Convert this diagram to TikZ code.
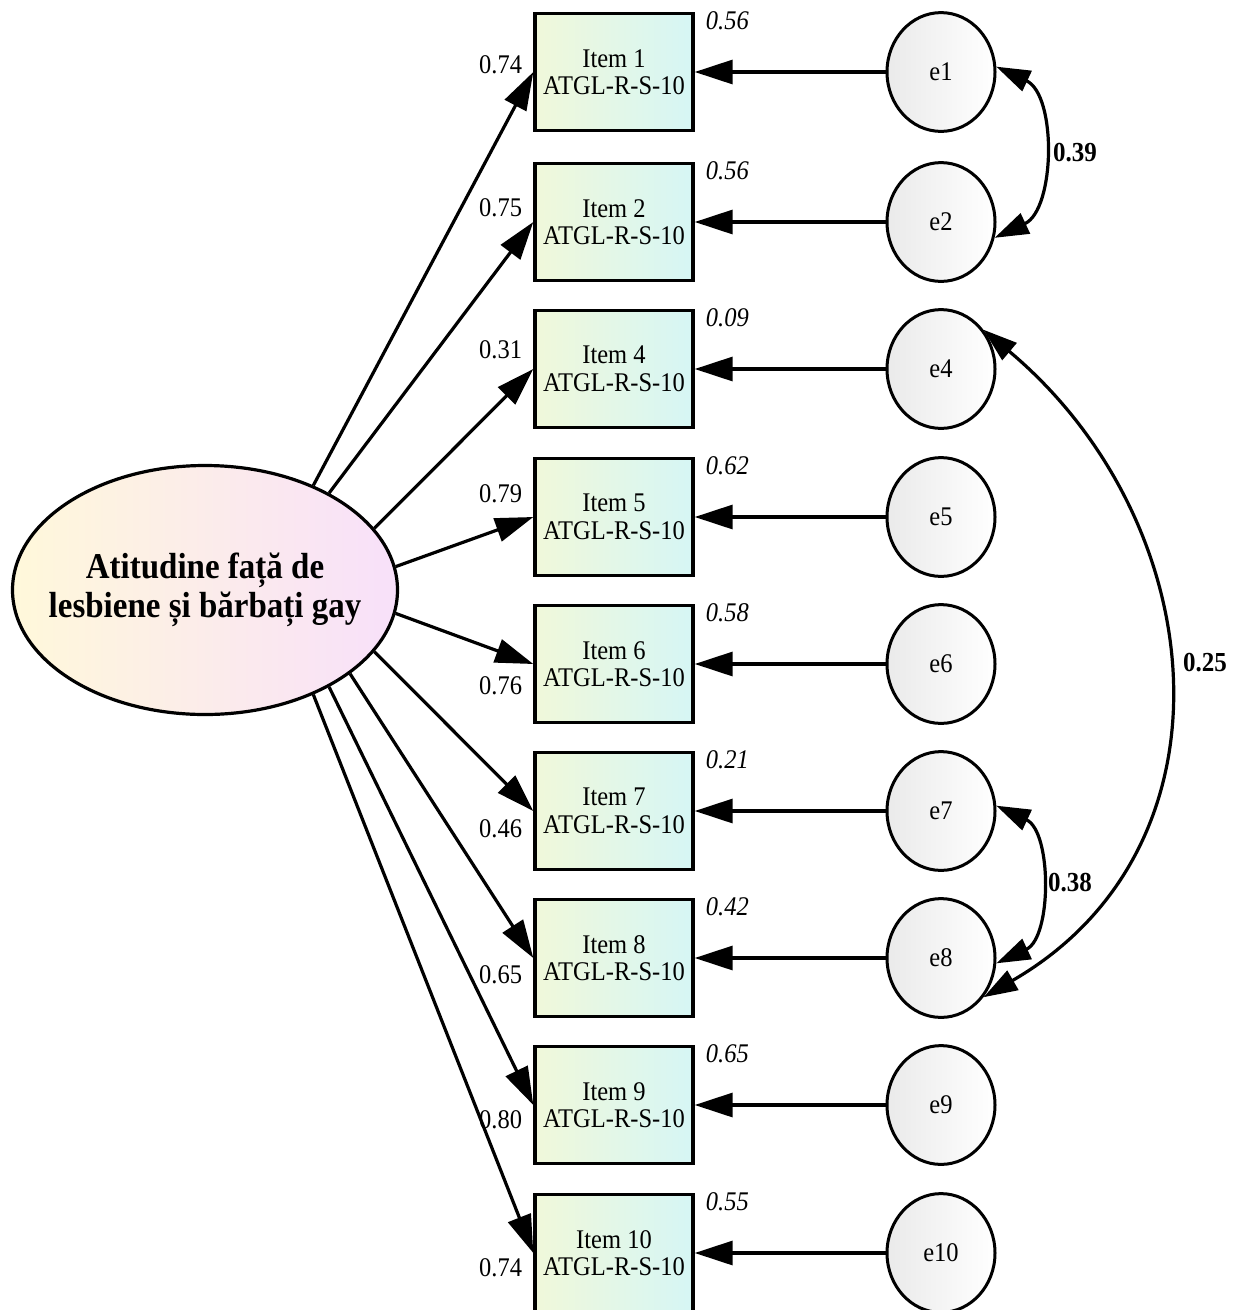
\documentclass[tikz,border=0pt]{standalone}
\usepackage{fontspec}
\setmainfont{Liberation Serif}
\usetikzlibrary{calc}
\usetikzlibrary{arrows.meta}
\usetikzlibrary{shapes.geometric}

\definecolor{boxl}{RGB}{240,248,218}
\definecolor{boxr}{RGB}{214,246,245}
\definecolor{latl}{RGB}{255,248,218}
\definecolor{latr}{RGB}{248,224,250}
\definecolor{errl}{RGB}{234,234,234}

\tikzset{
  itembox/.style={draw, line width=3.4pt, minimum width=158pt, minimum height=106pt, yscale=1.1, inner sep=0pt,
    left color=boxl, right color=boxr, align=center, font=\fontsize{24.5}{25}\selectfont},
  errc/.style={draw, circle, line width=3pt, minimum size=108pt, yscale=1.1, inner sep=0pt,
    left color=errl, right color=white, font=\fontsize{24.5}{25}\selectfont},
  latent/.style={draw, ellipse, line width=3.2pt, minimum width=385pt, minimum height=249pt, inner sep=0pt,
    left color=latl, right color=latr},
  lbl/.style={inner sep=0pt, yscale=1.1, font=\fontsize{24.5}{25}\selectfont},
  ld/.style={line width=3.2pt, -{Triangle[length=38pt,width=24pt]}},
  cov/.style={line width=3.2pt, {Triangle[length=34pt,width=22pt]}-{Triangle[length=34pt,width=22pt]}}
}

\begin{document}
\begin{tikzpicture}[x=1pt, y=1pt]
\useasboundingbox (0,0) rectangle (1245,-1310);

\node[latent] (lat) at (205,-590) {};
\node[lbl, align=center, font=\fontsize{33}{36}\selectfont\bfseries] (lattxt) at (lat) {Atitudine față de\\lesbiene și bărbați gay};

\foreach \n/\y/\ld/\dy/\rsq/\ang in {1/72/0.74/7/0.56/44.5, 2/222/0.75/14/0.56/38, 4/369/0.31/19/0.09/20,
  5/517/0.79/23/0.62/7.3, 6/664/0.76/-22/0.58/-7.3, 7/811/0.46/-18/0.21/-20, 8/958/0.65/-17/0.42/-30,
  9/1105/0.80/-15/0.65/-38, 10/1253/0.74/-15/0.55/-44}
{
\node[itembox] (itm\n) at (614,-\y) {Item \n\\ATGL-R-S-10};
\node[errc] (err\n) at (941,-\y) {e\n};
\draw[ld] (err\n) -- (itm\n);
\draw[ld] (lat.\ang) -- (itm\n.west);
\node[lbl, anchor=east] (ld\n) at ($(itm\n.west)+(-11,\dy)$) {\ld};
\node[lbl, anchor=west, font=\fontsize{24.5}{25}\selectfont\itshape] (r\n) at ($(itm\n.north east)+(11,-9)$) {\rsq};
}

\draw[cov] (err1.5) to[out=-25, in=25] (err2.-15);
\draw[cov] (err7.5) to[out=-25, in=25] (err8.-5);
\draw[cov] (err4.40) to[out=-40, in=30, looseness=1.15] (err8.-40);

\node[lbl, anchor=west, font=\fontsize{25}{25}\selectfont\bfseries] (c12) at (1053,-153) {0.39};
\node[lbl, anchor=west, font=\fontsize{25}{25}\selectfont\bfseries] (c78) at (1048,-883) {0.38};
\node[lbl, anchor=west, font=\fontsize{25}{25}\selectfont\bfseries] (c48) at (1183,-663) {0.25};

\end{tikzpicture}
\end{document}
